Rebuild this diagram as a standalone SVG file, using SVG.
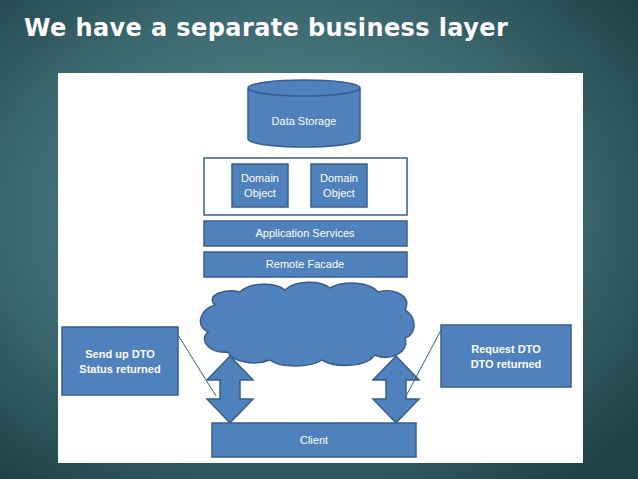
<svg xmlns="http://www.w3.org/2000/svg" width="638" height="479" viewBox="0 0 638 479">
<defs>
<radialGradient id="bg" cx="0.45" cy="0.45" r="0.7">
<stop offset="0" stop-color="#5e8e91"/><stop offset="0.6" stop-color="#3c6a70"/><stop offset="1" stop-color="#1f4248"/>
</radialGradient>
<style>
.b{fill:#4f81bd;stroke:#385d8a;stroke-width:1.5}
.t{font-family:"Liberation Sans",Arial,sans-serif;font-size:11px;fill:#fff;text-anchor:middle}
.tb{font-weight:bold}
</style>
</defs>
<rect width="638" height="479" fill="url(#bg)"/>
<text x="24" y="36" font-family="'DejaVu Sans',sans-serif" font-weight="bold" font-size="24" letter-spacing="0.4" fill="#fff">We have a separate business layer</text>
<rect x="58" y="73" width="525" height="390" fill="#fff"/>
<g id="datastorage"><path class="b" d="M248 88 V139 A56 8 0 0 0 360 139 V88"/><ellipse class="b" cx="304" cy="88" rx="56" ry="8"/><text class="t" x="304" y="125">Data Storage</text></g>
<g id="domainlayer"><rect x="204" y="158" width="203" height="57" fill="none" stroke="#385d8a" stroke-width="1.5"/></g>
<g id="domain1"><rect class="b" x="232" y="164" width="56" height="43"/><text class="t" x="260" y="182">Domain</text><text class="t" x="260" y="197">Object</text></g>
<g id="domain2"><rect class="b" x="311" y="164" width="56" height="43"/><text class="t" x="339" y="182">Domain</text><text class="t" x="339" y="197">Object</text></g>
<g id="appservices"><rect class="b" x="204" y="221" width="203" height="25"/><text class="t" x="305" y="237">Application Services</text></g>
<g id="remotefacade"><rect class="b" x="204" y="252" width="203" height="25"/><text class="t" x="305" y="268">Remote Facade</text></g>
<g id="cloud"><path class="b" d="M215 305 C205 295 225 288 240 292 C250 282 275 282 285 290 C295 280 320 280 330 288 C345 280 370 282 378 292 C395 288 412 296 405 310 C418 318 416 335 405 338 C410 352 390 362 375 355 C365 368 335 368 322 360 C310 368 280 368 270 360 C255 366 232 362 228 352 C210 354 198 340 208 332 C195 325 200 310 215 305 Z"/></g>
<g id="arrows">
<polygon class="b" points="230,356 253,380 240,380 240,399 253,399 230,423 207,399 220,399 220,380 207,380"/>
<polygon class="b" points="396,356 419,380 406,380 406,399 419,399 396,423 373,399 386,399 386,380 373,380"/>
</g>
<g id="client"><rect class="b" x="212" y="423" width="204" height="34"/><text class="t" x="314" y="444">Client</text></g>
<g id="connectors"><line x1="178" y1="335" x2="216" y2="396" stroke="#385d8a" stroke-width="1"/><line x1="441" y1="330" x2="405" y2="398" stroke="#385d8a" stroke-width="1"/></g>
<g id="leftcallout"><rect class="b" x="62" y="327" width="116" height="68"/><text class="t tb" x="120" y="358">Send up DTO</text><text class="t tb" x="120" y="373">Status returned</text></g>
<g id="rightcallout"><rect class="b" x="441" y="325" width="130" height="62"/><text class="t tb" x="506" y="353">Request DTO</text><text class="t tb" x="506" y="368">DTO returned</text></g>
</svg>
